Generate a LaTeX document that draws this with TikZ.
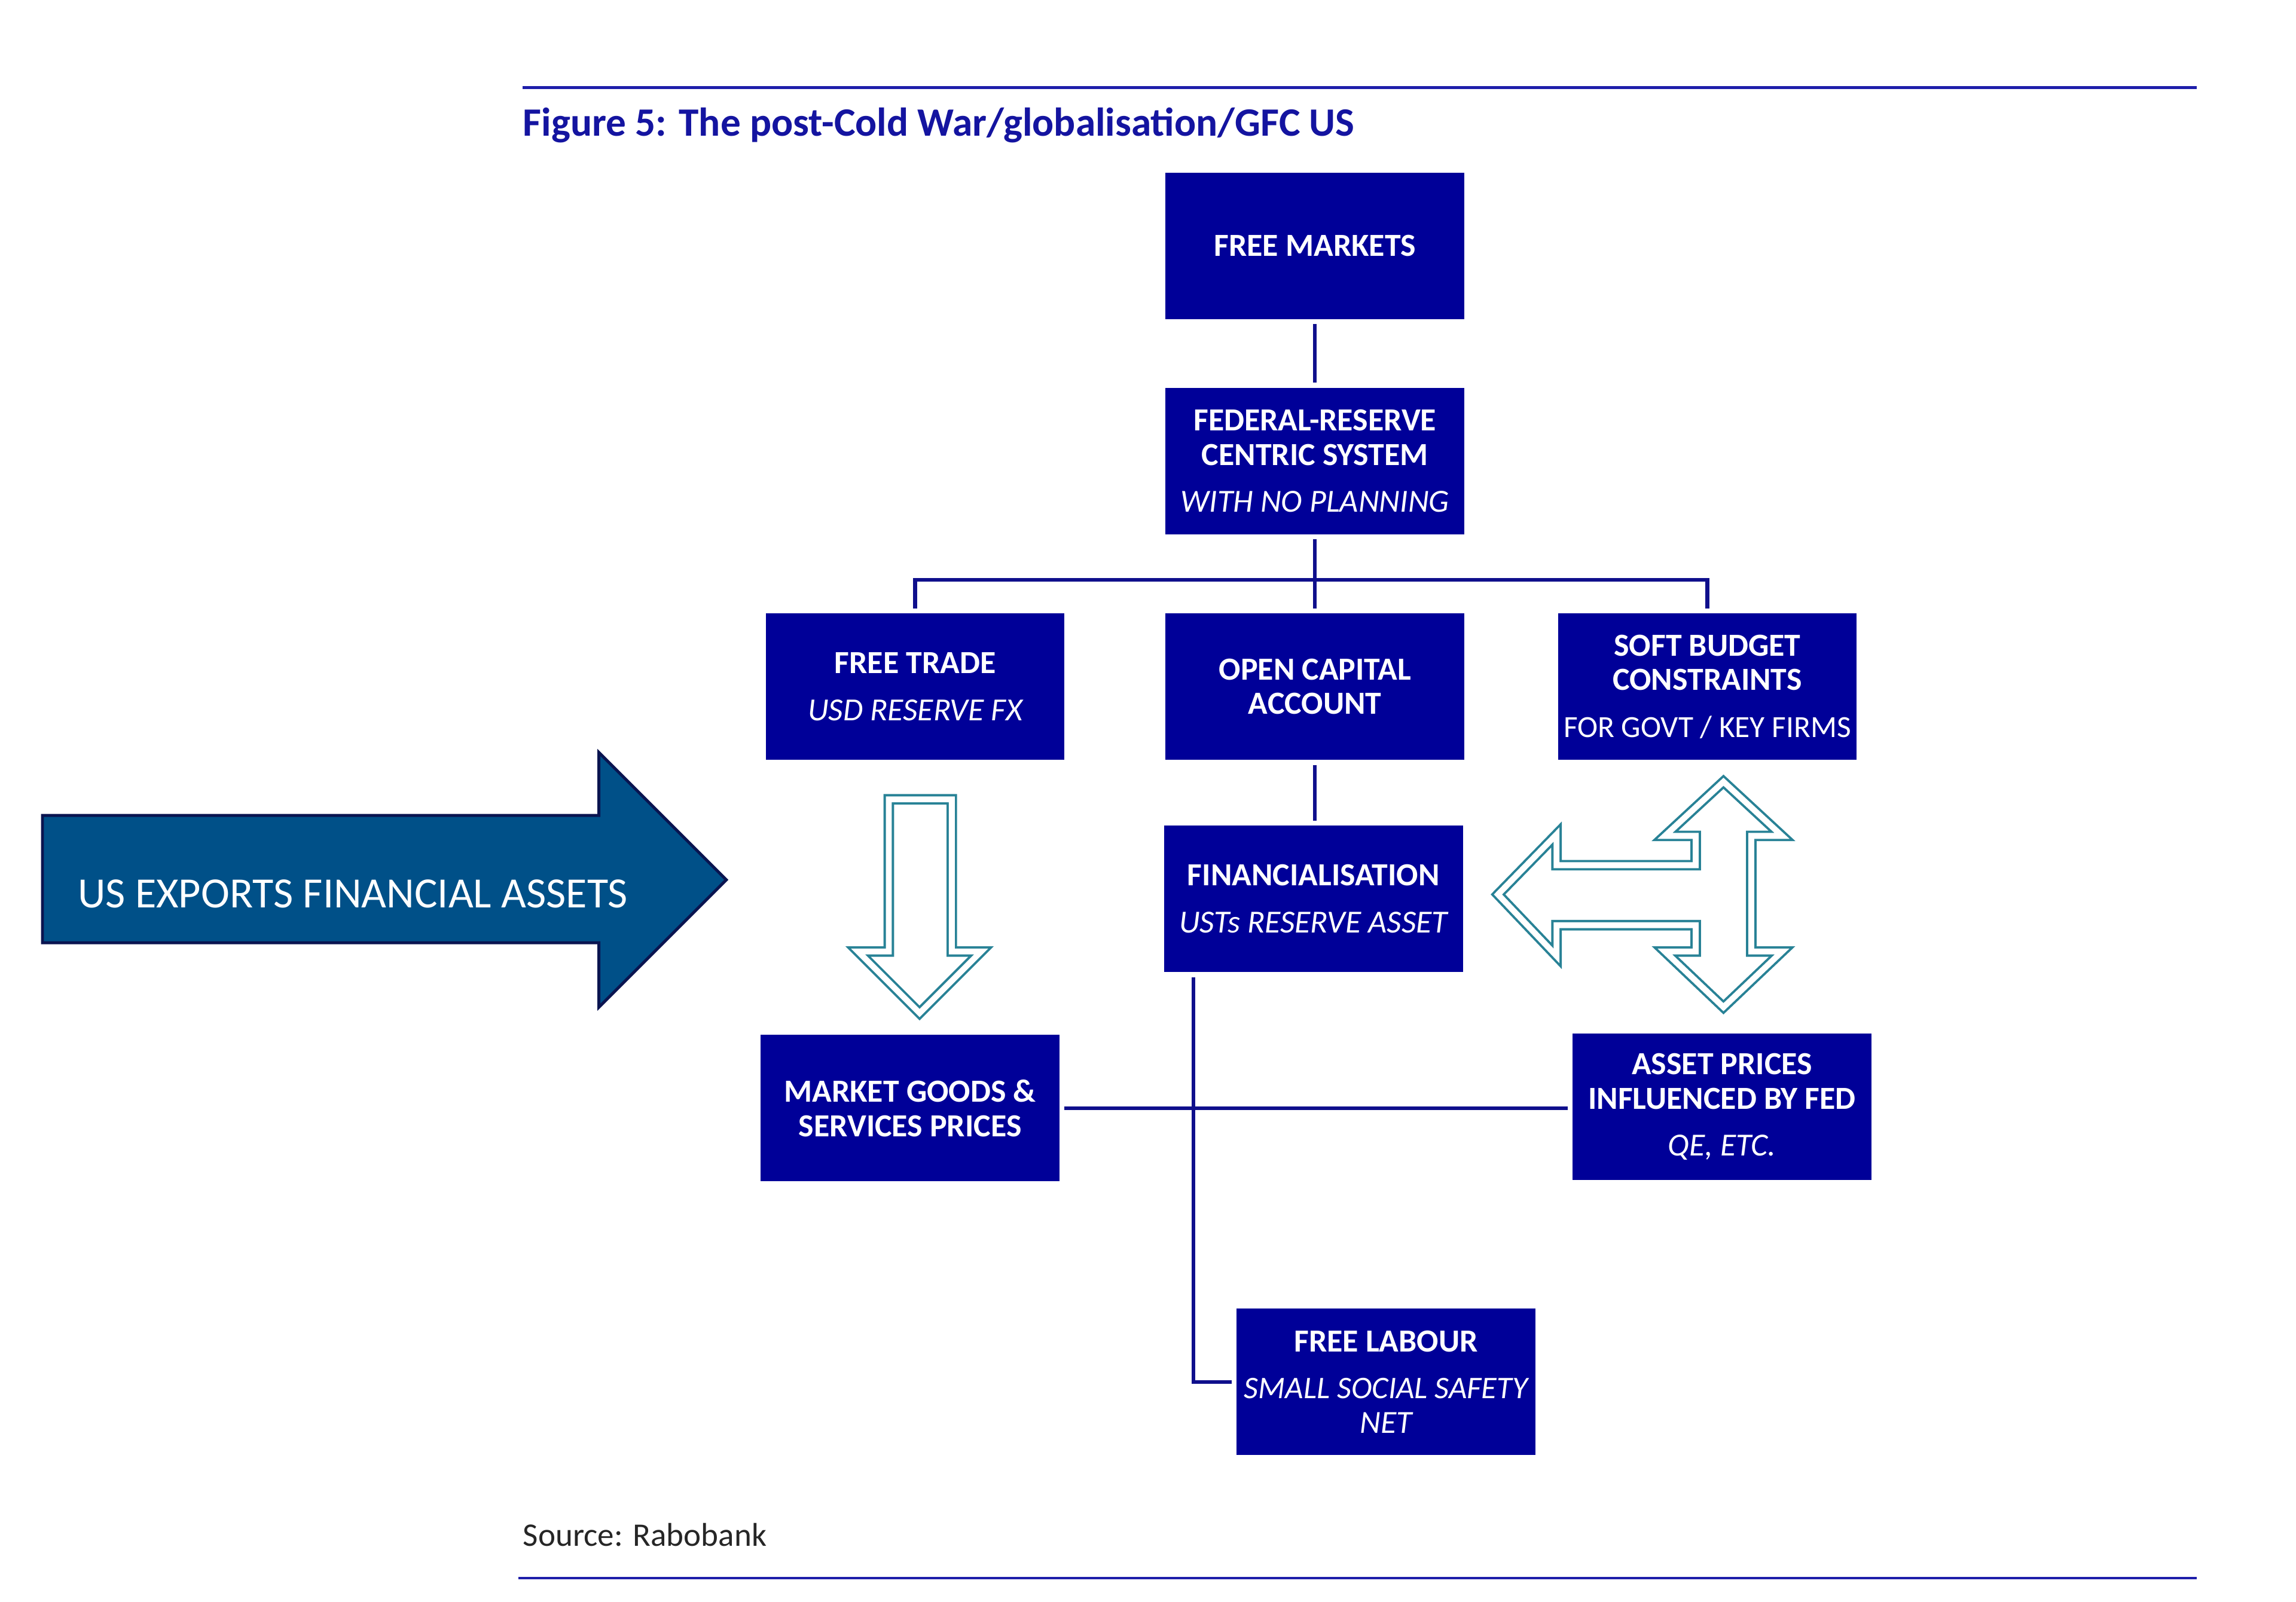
\documentclass[tikz,border=0pt]{standalone}
\usepackage{fontspec}
\setmainfont{Carlito}
\definecolor{boxblue}{RGB}{0,0,152}
\definecolor{linenavy}{RGB}{15,15,140}
\definecolor{rulecol}{RGB}{30,30,170}
\definecolor{titlecol}{RGB}{20,20,160}
\definecolor{tealc}{RGB}{40,130,150}
\definecolor{bigfill}{RGB}{0,80,136}
\definecolor{bigline}{RGB}{10,20,80}
\newcommand\subline[1]{{\mdseries\itshape #1}}
\newcommand\plainline[1]{{\mdseries\fontsize{21}{23.5}\selectfont #1}}
\begin{document}
\begin{tikzpicture}[x=1pt,y=-1pt,
  box/.style={fill=boxblue, text=white, minimum width=204pt, minimum height=100pt,
    inner sep=0pt, outer sep=3.5pt, align=center,
    font=\fontsize{22}{23.5}\selectfont\bfseries},
  conn/.style={draw=linenavy, line width=2.6pt},
  hollow/.style={draw=tealc, line width=1.6pt, double=white, double distance=4pt, line join=miter},
  bigarrow/.style={fill=bigfill, draw=bigline, line width=2pt, line join=miter},
  rulel/.style={draw=rulecol, line width=2pt}
]
\useasboundingbox (0,0) rectangle (1568,1094);

% rules
\draw[rulel] (357,60) -- (1500,60);
\draw[rulel] (354,1078) -- (1500,1078);

% title and source
\node[anchor=base west, inner sep=0pt, text=titlecol, font=\fontsize{27.5}{30}\selectfont\bfseries] (title) at (357,93)
  {Figure 5: The post-Cold War/globalisation/GFC US};
\node[anchor=base west, inner sep=0pt, text=black!85, font=\fontsize{22.5}{26}\selectfont] (source) at (357,1056)
  {Source: Rabobank};

% boxes
\node[box] (fm)  at (898,168) {FREE MARKETS};
\node[box] (fed) at (898,315) {FEDERAL-RESERVE\\CENTRIC SYSTEM\\[8.5pt]\subline{WITH NO PLANNING}};
\node[box] (ft)  at (625,469) {FREE TRADE\\[8.5pt]\subline{USD RESERVE FX}};
\node[box] (oca) at (898,469) {OPEN CAPITAL\\ACCOUNT};
\node[box] (sbc) at (1166,469) {SOFT BUDGET\\CONSTRAINTS\\[8.5pt]\plainline{FOR GOVT / KEY FIRMS}};
\node[box] (fin) at (897,614) {FINANCIALISATION\\[8.5pt]\subline{USTs RESERVE ASSET}};
\node[box] (mgs) at (621.5,757) {MARKET GOODS \&\\SERVICES PRICES};
\node[box] (ap)  at (1176,756) {ASSET PRICES\\INFLUENCED BY FED\\[8.5pt]\subline{QE, ETC.}};
\node[box] (fl)  at (946.5,944) {FREE LABOUR\\[8.5pt]\subline{\fontsize{21.5}{23.5}\selectfont SMALL SOCIAL SAFETY}\\\subline{NET}};

% connectors
\coordinate (br) at (898,396);
\draw[conn] (fm.south) -- (fed.north);
\draw[conn] (fed.south) -- (oca.north);
\draw[conn] (ft.north) |- (br) -| (sbc.north);
\draw[conn] (oca.south) -- (oca.south |- fin.north);
\draw[conn] ([xshift=23.5pt]fin.south west) |- (fl.west);
\draw[conn] (mgs.east) -- (mgs.east -| ap.west);

% hollow arrows
\draw[hollow] (607,546) -- (650,546) -- (650,650) -- (670,650) -- (628,692)
  -- (586,650) -- (607,650) -- cycle;
\draw[hollow] (1023,611) -- (1063,570) -- (1063,591) -- (1158,591) -- (1158,571)
  -- (1137,571) -- (1177,534) -- (1217,571) -- (1196,571) -- (1196,650)
  -- (1217,650) -- (1177,688) -- (1137,650) -- (1158,650) -- (1158,632)
  -- (1063,632) -- (1063,653) -- cycle;

% big arrow
\draw[bigarrow] (29,557) -- (409,557) -- (409,514) -- (496,601) -- (409,688)
  -- (409,644) -- (29,644) -- cycle;
\node[anchor=base west, inner sep=0pt, text=white, font=\fontsize{29.5}{32}\selectfont] (export) at (53,620)
  {US EXPORTS FINANCIAL ASSETS};
\end{tikzpicture}
\end{document}
